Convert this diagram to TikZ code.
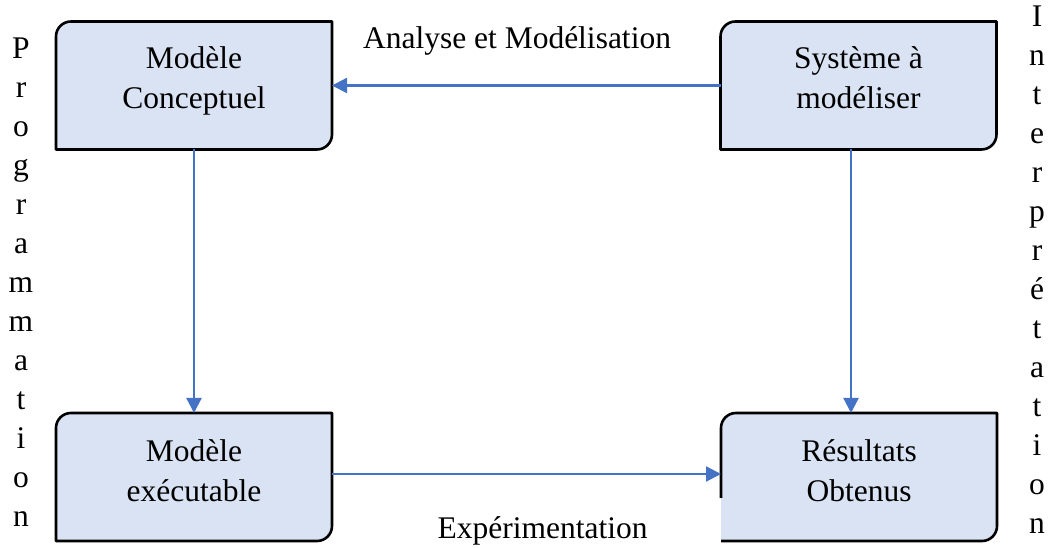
\documentclass[tikz,border=0pt]{standalone}
\usepackage{fontspec}
\setmainfont{Liberation Serif}
\usetikzlibrary{arrows.meta,calc}
\definecolor{boxfill}{HTML}{DAE3F3}
\definecolor{flowblue}{HTML}{4472C4}

% Outline of a stage box: rounded top-left and bottom-right corners
\newcommand{\stagepath}[1]{(#1.south west) -- ([yshift=-15pt]#1.north west)
  arc[start angle=180,end angle=90,radius=15pt] -- (#1.north east)
  -- ([yshift=15pt]#1.south east) arc[start angle=0,end angle=-90,radius=15pt] -- cycle}

\begin{document}
\begin{tikzpicture}[x=1pt,y=1pt,
  stage/.style={minimum width=276pt,minimum height=128pt,inner sep=0pt,outer sep=0pt},
  stageline/.style={draw=black,line width=2.6pt,fill=boxfill,line join=round},
  stagetext/.style={align=center,inner sep=0pt,font=\fontsize{31.5}{40}\selectfont},
  flow/.style={draw=flowblue,line width=2.2pt,-{Triangle[length=15pt,width=15pt]}},
  caption/.style={inner sep=0pt,font=\fontsize{31.5}{40}\selectfont},
  column/.style={align=center,inner sep=0pt,font=\fontsize{31.5}{39}\selectfont}]

\useasboundingbox (0,0) rectangle (1052,548);

% Stage boxes
\node[stage] (conc) at (194,462.5) {};
\node[stage] (sys) at (858.5,462.5) {};
\node[stage] (exe) at (194,71) {};
\node[stage] (res) at (859,71) {};

\path[stageline] \stagepath{conc};
\path[stageline] \stagepath{sys};
\path[stageline] \stagepath{exe};
\fill[boxfill] \stagepath{res};
\draw[line width=2.6pt,line join=round] ([yshift=43pt]res.south west) -- ([yshift=-15pt]res.north west)
  arc[start angle=180,end angle=90,radius=15pt] -- (res.north east)
  -- ([yshift=15pt]res.south east) arc[start angle=0,end angle=-90,radius=15pt] -- (res.south west);

% Box texts
\node[stagetext] (concT) at ([yshift=4.5pt]conc.center) {\strut Modèle\\\strut Conceptuel};
\node[stagetext] (sysT) at ([yshift=4.5pt]sys.center) {\strut Système à\\\strut modéliser};
\node[stagetext] (exeT) at ([yshift=3pt]exe.center) {\strut Modèle\\\strut exécutable};
\node[stagetext] (resT) at ([yshift=3pt]res.center) {\strut Résultats\\\strut Obtenus};

% Connectors
\draw[flow] (sys.west) -- (conc.east);
\draw[flow] (conc.south) -- (exe.north);
\draw[flow] ([xshift=-7.5pt]sys.south) -- ([xshift=-8pt]res.north);
\draw[flow] ([yshift=3pt]exe.east) -- ([yshift=3pt]res.west);

% Labels
\node[caption,anchor=base] (lblTop) at (517,499) {Analyse et Modélisation};
\node[caption,anchor=base] (lblBot) at (542.5,9) {Expérimentation};

\node[column] (lblLeft) at (21,262.8) {\strut P\\\strut r\\\strut o\\\strut g\\\strut r\\\strut a\\\strut m\\\strut m\\\strut a\\\strut t\\\strut i\\\strut o\\\strut n};
\node[column] (lblRight) at (1037,275.3) {\strut I\\\strut n\\\strut t\\\strut e\\\strut r\\\strut p\\\strut r\\\strut é\\\strut t\\\strut a\\\strut t\\\strut i\\\strut o\\\strut n};
\end{tikzpicture}
\end{document}
